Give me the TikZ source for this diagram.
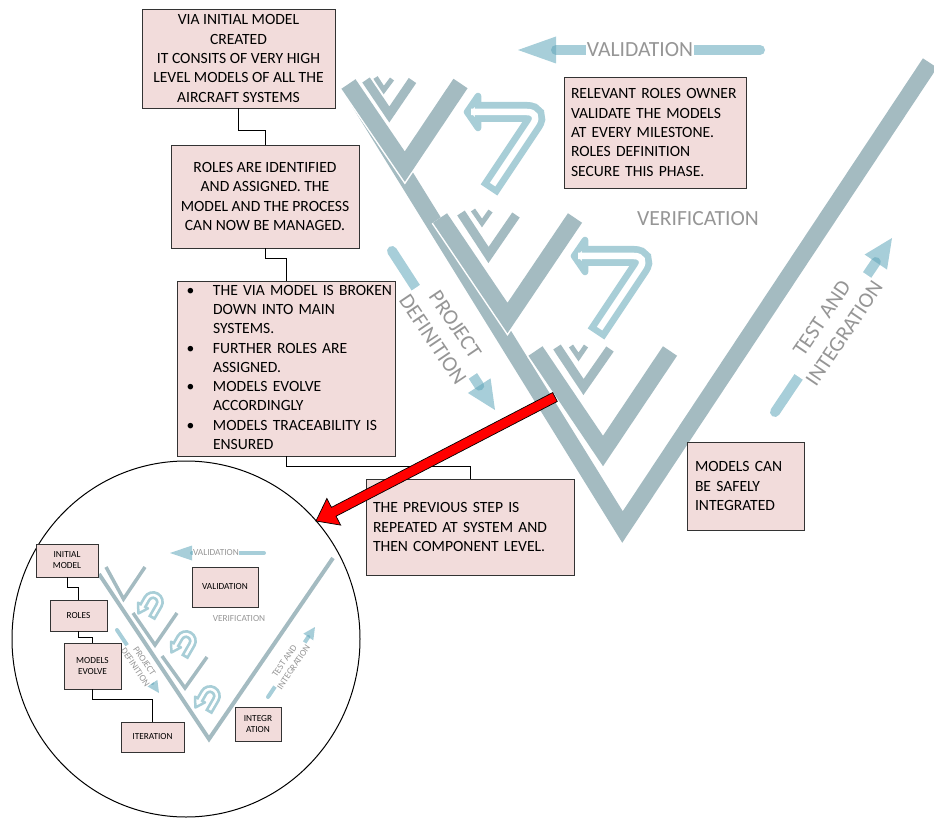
\documentclass[tikz,border=0pt]{standalone}
\usepackage{fontspec}
\setmainfont{Carlito}
\usetikzlibrary{calc}

\definecolor{vgray}{RGB}{164,187,193}
\definecolor{flowblue}{RGB}{95,165,185}
\definecolor{turnblue}{RGB}{168,206,215}
\definecolor{boxpink}{RGB}{242,220,219}
\definecolor{labelgray}{RGB}{150,150,150}

\tikzset{
	infobox/.style={draw=black!80,line width=0.9pt,fill=boxpink,inner sep=0pt,font=\fontsize{15.6}{19.3}\selectfont},
	minibox/.style={draw=black!80,line width=0.7pt,fill=boxpink,inner sep=0pt,align=center,font=\fontsize{9.3}{11}\selectfont},
	biglabel/.style={text=labelgray,inner sep=1pt,align=center,font=\fontsize{21.6}{27}\selectfont},
	smalllabel/.style={text=labelgray,inner sep=0.5pt,align=center,font=\fontsize{9.3}{11}\selectfont},
	link/.style={draw=black,line width=0.8pt},
}

\newcommand{\vchev}[4]{%
	\draw [white,line width=#4+3pt,line join=miter] (#1) -- (#2) -- (#3);
	\draw [vgray,line width=#4,line join=miter] (#1) -- (#2) -- (#3);}

\newcommand{\turnarrow}[1]{%
	\begin{scope}[shift={(#1)}]
		\draw [turnblue,line width=6.5pt,line join=round,fill=white] (0,0) -- (11,-16) -- (11,16) -- cycle;
		\draw [turnblue,line width=20pt,rounded corners=14pt] (11,0) -- (74,0) -- (22,78);
		\draw [white,line width=6.5pt,rounded corners=14pt] (4,0) -- (74,0) -- (25.6,72.6);
	\end{scope}}

\newcommand{\miniturn}[1]{%
	\begin{scope}[shift={(#1)},rotate=-30,scale=1.15]
		\draw [turnblue,line width=2.5pt,line join=round,fill=white] (-11,7) -- (-1,7) -- (-6,15) -- cycle;
		\draw [turnblue,line width=8pt] (6,13) -- (6,0) arc [start angle=0,end angle=-180,radius=6] -- (-6,7);
		\draw [white,line width=2.5pt] (6,10.5) -- (6,0) arc [start angle=0,end angle=-180,radius=6] -- (-6,10);
	\end{scope}}

\newcommand{\flowarrow}[5]{%
	\coordinate (fa-base) at ($(#2)!#4!(#1)$);
	\draw [flowblue,opacity=0.55,line width=#3,line cap=round] (#1) -- (fa-base);
	\fill [flowblue,opacity=0.55] (#2) -- ($(fa-base)!#5!90:(#2)$) -- ($(fa-base)!#5!-90:(#2)$) -- cycle;}

\begin{document}
\begin{tikzpicture}[x=1pt,y=-1pt]
	\useasboundingbox (0,0) rectangle (934,818);
	\clip (0,0) rectangle (934,818);

	\coordinate (VL) at (348.5,84.5);
	\coordinate (VB) at (622.5,527);
	\coordinate (VR) at (930,63);
	\draw [vgray,line width=17pt,line join=miter] (VL) -- (VB) -- (VR);

	\vchev{348.5,84}{404.8,166.6}{460.5,83.5}{17pt}
	\vchev{366,80}{389.3,114.5}{412.5,80.5}{9pt}
	\vchev{375.5,77.5}{383.8,90}{392,79}{5pt}
	\vchev{440,218}{507.5,318}{575,218}{17pt}
	\vchev{461,213}{488.5,255}{516,215}{9pt}
	\vchev{473,210}{482,223}{490.5,211}{5pt}
	\vchev{535.5,351}{603,451}{670,351}{17pt}
	\vchev{557,347}{583.5,387}{610,349}{9pt}
	\vchev{571,346}{578.5,357}{586,346}{5pt}

	\turnarrow{467,112}
	\turnarrow{574,256}

	\coordinate (valstart) at (760,50);
	\coordinate (valtip) at (518,50);
	\coordinate (pdstart) at (392,251);
	\coordinate (pdtip) at (495,410);
	\coordinate (tistart) at (775,412);
	\coordinate (titip) at (892,238);
	\flowarrow{valstart}{valtip}{10pt}{38pt}{13.5pt}
	\flowarrow{pdstart}{pdtip}{10pt}{29pt}{13.5pt}
	\flowarrow{tistart}{titip}{10pt}{29pt}{13.5pt}

	\node [infobox,minimum width=193pt,minimum height=99pt,align=center] (initial) at (238.5,58.5) {VIA INITIAL MODEL\\CREATED\\IT CONSITS OF VERY HIGH\\LEVEL MODELS OF ALL THE\\AIRCRAFT SYSTEMS};
	\node [infobox,minimum width=188pt,minimum height=103pt,align=center] (roles) at (265,196.5) {ROLES ARE IDENTIFIED\\AND ASSIGNED. THE\\MODEL AND THE PROCESS\\CAN NOW BE MANAGED.};
	\node [infobox,text width=218pt,minimum height=175pt,align=left] (evolve) at (286,368.5) {\begin{tabular}{@{\hspace{9.5pt}}p{26.5pt}@{}l@{}}
		\textbullet & THE VIA MODEL IS BROKEN\\
		& DOWN INTO MAIN\\
		& SYSTEMS.\\
		\textbullet & FURTHER ROLES ARE\\
		& ASSIGNED.\\
		\textbullet & MODELS EVOLVE\\
		& ACCORDINGLY\\
		\textbullet & MODELS TRACEABILITY IS\\
		& ENSURED
		\end{tabular}};
	\node [infobox,inner xsep=7pt,text width=194pt,minimum height=96pt,align=left] (repeat) at (470,527) {THE PREVIOUS STEP IS\\REPEATED AT SYSTEM AND\\THEN COMPONENT LEVEL.};
	\node [infobox,inner xsep=7pt,text width=168pt,minimum height=111pt,align=left] (owner) at (655,132.5) {RELEVANT ROLES OWNER\\VALIDATE THE MODELS\\AT EVERY MILESTONE.\\ROLES DEFINITION\\SECURE THIS PHASE.};
	\node [infobox,inner xsep=8pt,text width=101pt,minimum height=88pt,align=left] (safe) at (745.5,486) {MODELS CAN\\BE SAFELY\\INTEGRATED};

	\draw [link] (initial.south) -- ++(0,22) -| (roles.north);
	\draw [link] (roles.south) -- ++(0,10) -| (evolve.north);
	\draw [link] (evolve.south) -- ++(0,10) -| (repeat.north);

	\node [biglabel,fill=white] (validation) at (640,50) {VALIDATION};
	\node [biglabel] (verification) at (698,219) {VERIFICATION};
	\node [biglabel,fill=white,rotate=-56] (projdef) at (444,332) {PROJECT\\DEFINITION};
	\node [biglabel,fill=white,rotate=56] (testint) at (833,326) {TEST AND\\INTEGRATION};

	\draw [line width=1pt] (186,639) ellipse [x radius=174pt,y radius=178pt];

	\draw [vgray,line width=4pt,line join=miter] (99,574) -- (209,739) -- (333,558);
	\draw [vgray,line width=3.5pt,line join=miter] (106,567) -- (123.5,599) -- (145,567);
	\draw [vgray,line width=3.5pt,line join=miter] (133,613) -- (155,645) -- (177,613);
	\draw [vgray,line width=3.5pt,line join=miter] (162,656) -- (185,688) -- (207,657);

	\miniturn{153,602}
	\miniturn{186,641}
	\miniturn{210,696}

	\coordinate (minivalstart) at (264,553);
	\coordinate (minivaltip) at (170,553);
	\coordinate (minipdstart) at (117,630);
	\coordinate (minipdtip) at (159,693);
	\coordinate (minitistart) at (268,697);
	\coordinate (minititip) at (315,627);
	\flowarrow{minivalstart}{minivaltip}{4pt}{22pt}{7.5pt}
	\flowarrow{minipdstart}{minipdtip}{4pt}{12pt}{6pt}
	\flowarrow{minitistart}{minititip}{4pt}{12pt}{6pt}

	\node [smalllabel,fill=white] (minival) at (216,553) {VALIDATION};
	\node [smalllabel] (miniver) at (239,619) {VERIFICATION};
	\node [smalllabel,fill=white,rotate=-56] (minipd) at (140,664) {PROJECT\\DEFINITION};
	\node [smalllabel,fill=white,rotate=56] (miniti) at (289,664) {TEST AND\\INTEGRATION};

	\node [minibox,minimum width=62pt,minimum height=33pt] (miniinit) at (67,560.5) {INITIAL\\MODEL};
	\node [minibox,minimum width=57pt,minimum height=31pt] (miniroles) at (78.5,615.5) {ROLES};
	\node [minibox,minimum width=57pt,minimum height=46pt] (minievolve) at (92.5,666) {MODELS\\EVOLVE};
	\node [minibox,minimum width=63pt,minimum height=30pt] (miniiter) at (152.5,737) {ITERATION};
	\node [minibox,minimum width=46pt,minimum height=34pt] (miniinteg) at (258,724) {INTEGR\\ATION};
	\node [minibox,minimum width=66pt,minimum height=40pt] (minivalbox) at (225,587) {VALIDATION};

	\draw [link,line width=0.7pt] (miniinit.south) -- ++(0,10) -| (miniroles.north);
	\draw [link,line width=0.7pt] (miniroles.south) -- ++(0,6) -| (minievolve.north);
	\draw [link,line width=0.7pt] (minievolve.south) -- ++(0,10) -| (miniiter.north);

	\coordinate (redstart) at (555,397);
	\coordinate (redtip) at (316,521);
	\coordinate (redbase) at ($(redtip)!20pt!(redstart)$);
	\draw [black,line width=0.7pt,fill=red,line join=miter] ($(redstart)!5pt!90:(redtip)$) -- ($(redbase)!5pt!90:(redtip)$) -- ($(redbase)!15pt!90:(redtip)$) -- (redtip) -- ($(redbase)!15pt!-90:(redtip)$) -- ($(redbase)!5pt!-90:(redtip)$) -- ($(redstart)!5pt!-90:(redtip)$) -- cycle;
\end{tikzpicture}
\end{document}
